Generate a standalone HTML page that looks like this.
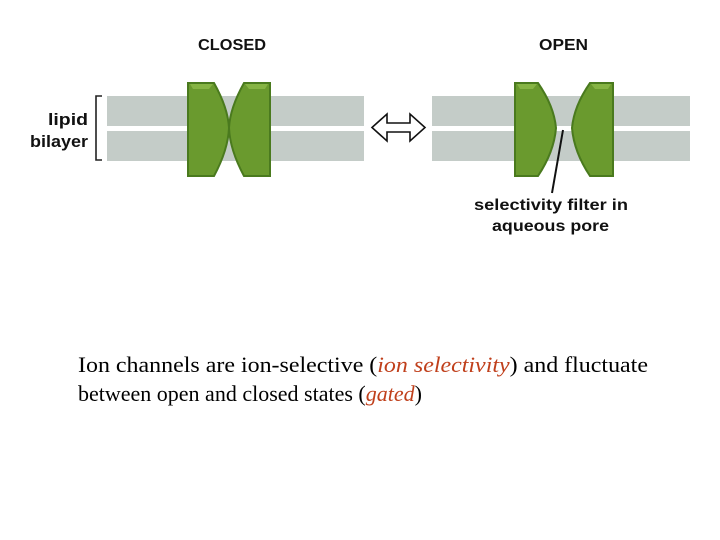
<!DOCTYPE html>
<html><head><style>
html,body{margin:0;padding:0;background:#fff;width:720px;height:540px;overflow:hidden}
svg{display:block}
</style></head><body>
<svg width="720" height="540" xmlns="http://www.w3.org/2000/svg">
<g font-family="'Liberation Sans',sans-serif" font-weight="bold" fill="#111">
<text x="198" y="50" font-size="16" textLength="68" lengthAdjust="spacingAndGlyphs">CLOSED</text>
<text x="539" y="50" font-size="16" textLength="49" lengthAdjust="spacingAndGlyphs">OPEN</text>
<text x="48" y="125" font-size="17" textLength="40" lengthAdjust="spacingAndGlyphs">lipid</text>
<text x="30" y="147" font-size="17" textLength="58" lengthAdjust="spacingAndGlyphs">bilayer</text>
<text x="474" y="210" font-size="16" textLength="154" lengthAdjust="spacingAndGlyphs">selectivity filter in</text>
<text x="492" y="231" font-size="16" textLength="117" lengthAdjust="spacingAndGlyphs">aqueous pore</text>
</g>
<path d="M102 96 H96 V160 H102" fill="none" stroke="#222" stroke-width="1.6"/>
<g fill="#c4ccc8">
<rect x="107" y="96" width="257" height="30"/><rect x="107" y="131" width="257" height="30"/>
<rect x="432" y="96" width="258" height="30"/><rect x="432" y="131" width="258" height="30"/>
</g>
<!-- closed channel -->
<path d="M188 83 H214 Q228 108 229 128 Q228 150 214 176 H188 Z" fill="#6a9a2e" stroke="#4a7a1e" stroke-width="2"/>
<path d="M270 83 H244 Q230 108 229 128 Q230 150 244 176 H270 Z" fill="#6a9a2e" stroke="#4a7a1e" stroke-width="2"/>
<path d="M190 84 H213 L209 89 H193 Z" fill="#86b444"/>
<path d="M268 84 H245 L249 89 H265 Z" fill="#86b444"/>
<!-- open channel -->
<path d="M515 83 H538 Q554 106 556 128 Q554 152 538 176 H515 Z" fill="#6a9a2e" stroke="#4a7a1e" stroke-width="2"/>
<path d="M613 83 H590 Q574 106 572 128 Q574 152 590 176 H613 Z" fill="#6a9a2e" stroke="#4a7a1e" stroke-width="2"/>
<path d="M517 84 H537 L533 89 H520 Z" fill="#86b444"/>
<path d="M611 84 H591 L595 89 H608 Z" fill="#86b444"/>
<line x1="563" y1="130" x2="552" y2="193" stroke="#111" stroke-width="2"/>
<path d="M372 127.5 L387 114 V123 H410 V114 L425 127.5 L410 141 V132 H387 V141 Z" fill="#fff" stroke="#111" stroke-width="1.6"/>
<g font-family="'Liberation Serif',serif" font-size="22" fill="#000">
<text x="78" y="372" textLength="570" lengthAdjust="spacingAndGlyphs">Ion channels are ion-selective (<tspan fill="#c0401c" font-style="italic">ion selectivity</tspan>) and fluctuate</text>
<text x="78" y="401">between open and closed states (<tspan fill="#c0401c" font-style="italic">gated</tspan>)</text>
</g>
</svg>
</body></html>
